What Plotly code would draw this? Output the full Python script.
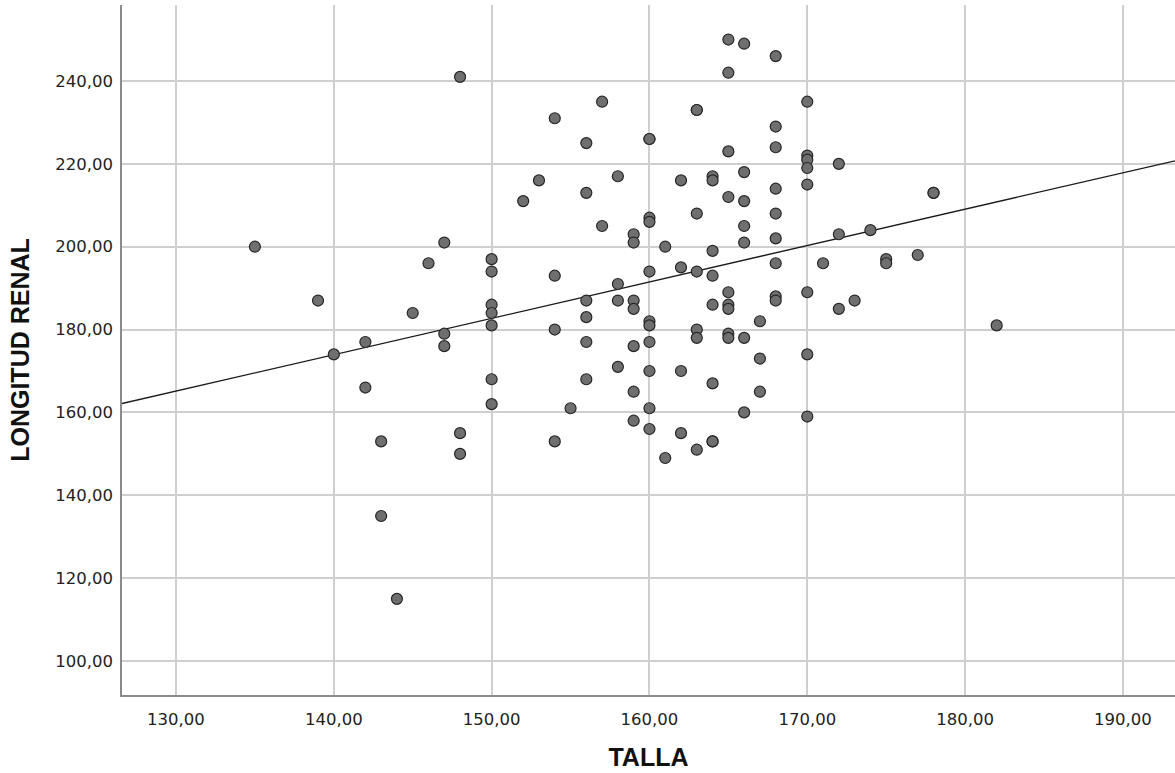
import numpy as np
import plotly.graph_objects as go

# TALLA (x) and LONGITUD RENAL (y)
talla = [
    135, 139, 140, 142, 142, 143, 143, 144, 145, 146, 147, 147, 147, 148, 148, 148,
    150, 150, 150, 150, 150, 150, 150, 152, 153, 154, 154, 154, 154, 155,
    156, 156, 156, 156, 156, 156, 157, 157, 158, 158, 158, 158,
    159, 159, 159, 159, 159, 159, 159,
    160, 160, 160, 160, 160, 160, 160, 160, 160, 160, 160, 161, 161,
    162, 162, 162, 162, 163, 163, 163, 163, 163, 163, 163,
    164, 164, 164, 164, 164, 164, 164, 164,
    165, 165, 165, 165, 165, 165, 165, 165, 165,
    166, 166, 166, 166, 166, 166, 166, 167, 167, 167,
    168, 168, 168, 168, 168, 168, 168, 168, 168,
    170, 170, 170, 170, 170, 170, 170, 170, 171, 172, 172, 172, 173, 174,
    175, 175, 177, 178, 178, 182,
]
longitud = [
    200, 187, 174, 177, 166, 153, 135, 115, 184, 196, 201, 179, 176, 241, 155, 150,
    197, 194, 186, 184, 181, 168, 162, 211, 216, 231, 193, 180, 153, 161,
    225, 213, 187, 183, 177, 168, 235, 205, 217, 191, 187, 171,
    203, 201, 187, 185, 176, 165, 158,
    226, 226, 207, 206, 194, 182, 181, 177, 170, 161, 156, 200, 149,
    216, 195, 170, 155, 233, 233, 208, 194, 180, 178, 151,
    217, 216, 199, 193, 186, 167, 153, 153,
    250, 242, 223, 212, 189, 186, 185, 179, 178,
    249, 218, 211, 205, 201, 178, 160, 182, 173, 165,
    246, 229, 224, 214, 208, 202, 196, 188, 187,
    235, 222, 221, 219, 215, 189, 174, 159, 196, 220, 203, 185, 187, 204,
    197, 196, 198, 213, 213, 181,
]

x_ticks = [130, 140, 150, 160, 170, 180, 190]
y_ticks = [100, 120, 140, 160, 180, 200, 220, 240]
x_range = [126.58, 193.30]
y_range = [91.79, 258.34]

# Linear fit line (least squares) across the full x range
slope, intercept = np.polyfit(np.array(talla, float), np.array(longitud, float), 1)
fit_x = np.array(x_range)
fit_y = intercept + slope * fit_x

fig = go.Figure()
fig.add_trace(go.Scatter(
    x=fit_x, y=fit_y, mode="lines",
    line=dict(color="#1a1a1a", width=1.3),
    hoverinfo="skip", showlegend=False,
))
fig.add_trace(go.Scatter(
    x=talla, y=longitud, mode="markers",
    marker=dict(size=11, color="#6f6f6f", line=dict(color="#262626", width=1.2)),
    showlegend=False,
))

tick_font = dict(family="DejaVu Sans", size=16.5, color="#222222")
title_font = dict(family="Liberation Sans", size=25, color="#111111")

fig.update_layout(
    width=1175, height=773,
    margin=dict(l=122, r=0, t=5, b=78),
    paper_bgcolor="white", plot_bgcolor="white",
    separators=",.",
    xaxis=dict(
        range=x_range, tickvals=x_ticks, tickformat=".2f",
        showgrid=True, gridcolor="#cfcfcf", gridwidth=1.5,
        showline=True, linecolor="#8a8a8a", linewidth=1.5,
        ticks="", ticklabelstandoff=8, zeroline=False,
        tickfont=tick_font,
        title=dict(text="<b>TALLA</b>", font=title_font, standoff=21),
    ),
    yaxis=dict(
        range=y_range, tickvals=y_ticks, tickformat=".2f",
        showgrid=True, gridcolor="#cfcfcf", gridwidth=1.5,
        showline=True, linecolor="#8a8a8a", linewidth=1.5,
        ticks="", ticklabelstandoff=4, zeroline=False,
        tickfont=tick_font,
        title=dict(text="<b>LONGITUD RENAL</b>", font=title_font, standoff=18),
    ),
)

fig.write_html(
    "out.html",
    config={"displayModeBar": False},
    post_script="document.body.style.margin='0';document.body.style.padding='0';document.body.style.overflow='hidden';",
)
